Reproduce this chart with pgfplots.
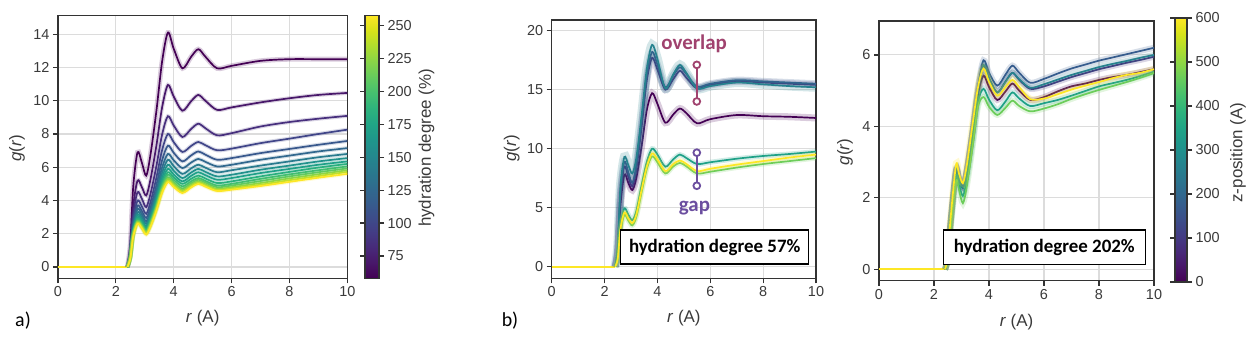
\documentclass[border=0pt]{standalone}
\usepackage{fontspec}
\setmainfont{Liberation Sans}
\newfontfamily\calibri{Carlito}
\usepackage{pgfplots}
\usepackage{pgfplotstable}
\pgfplotsset{compat=1.18}

\definecolor{spine}{HTML}{333333}
\definecolor{labc}{HTML}{3A3A3A}
\definecolor{gridc}{HTML}{DCDCDC}
\definecolor{ovc}{HTML}{A0426E}
\definecolor{gapc}{HTML}{6B4E9F}
% viridis samples for the hydration series (panel a)
\definecolor{va1}{HTML}{440154}
\definecolor{va2}{HTML}{48186A}
\definecolor{va3}{HTML}{472F7D}
\definecolor{va4}{HTML}{404588}
\definecolor{va5}{HTML}{38588C}
\definecolor{va6}{HTML}{31688E}
\definecolor{va7}{HTML}{297B8E}
\definecolor{va8}{HTML}{21918C}
\definecolor{va9}{HTML}{1FA088}
\definecolor{va10}{HTML}{29AF7F}
\definecolor{va11}{HTML}{40BD72}
\definecolor{va12}{HTML}{5CC863}
\definecolor{va13}{HTML}{86D549}
\definecolor{va14}{HTML}{B8DE29}
\definecolor{va15}{HTML}{FDE725}
% z-position series (panels b, c)
\definecolor{z0}{HTML}{440154}
\definecolor{z1}{HTML}{46327E}
\definecolor{z2}{HTML}{365C8D}
\definecolor{z3}{HTML}{26828E}
\definecolor{z4}{HTML}{1FA187}
\definecolor{z5}{HTML}{6CCD5A}
\definecolor{z6}{HTML}{FDE725}

\newcommand{\tickfont}{\fontsize{14.5}{16}\selectfont}
\newcommand{\labfont}{\fontsize{17}{19}\selectfont}

\pgfplotstableread{
r    a1    a2    a3   a4   a5   a6   a7   a8   a9   a10  a11  a12  a13  a14  a15
2.4  0     0     0    0    0    0    0    0    0    0    0    0    0    0    0
2.5  1.38  1.04  0.9  0.8  0.74 0.7  0.66 0.63 0.6  0.58 0.56 0.55 0.54 0.53 0.52
2.6  4.83  3.64  3.15 2.8  2.59 2.45 2.31 2.21 2.1  2.03 1.96 1.93 1.89 1.86 1.82
2.75 6.9   5.2   4.5  4.0  3.7  3.5  3.3  3.15 3.0  2.9  2.8  2.75 2.7  2.65 2.6
2.9  6.27  4.80  4.10 3.64 3.36 3.16 2.99 2.84 2.71 2.61 2.51 2.46 2.41 2.36 2.31
3.05 5.5   4.3   3.6  3.2  2.95 2.75 2.6  2.45 2.35 2.25 2.15 2.1  2.05 2.0  1.95
3.2  6.79  5.30  4.42 3.92 3.60 3.36 3.18 3.01 2.88 2.77 2.66 2.60 2.54 2.48 2.42
3.4  9.37  7.29  6.06 5.36 4.91 4.57 4.33 4.12 3.95 3.80 3.68 3.59 3.51 3.44 3.37
3.6  12.38 9.62  7.98 7.04 6.43 5.99 5.68 5.41 5.19 5.01 4.87 4.74 4.65 4.56 4.47
3.8  14.1  10.95 9.07 8.0  7.3  6.8  6.45 6.15 5.9  5.7  5.55 5.4  5.3  5.2  5.1
4.0  13.13 10.25 8.51 7.51 6.87 6.42 6.07 5.79 5.56 5.39 5.24 5.09 4.99 4.90 4.81
4.3  11.95 9.4   7.82 6.92 6.35 5.95 5.6  5.35 5.15 5.0  4.85 4.72 4.62 4.53 4.45
4.6  12.64 9.97  8.30 7.28 6.71 6.28 5.93 5.68 5.48 5.30 5.15 5.04 4.94 4.85 4.78
4.85 13.1  10.35 8.62 7.52 6.95 6.5  6.15 5.9  5.7  5.5  5.35 5.25 5.15 5.07 5.0
5.1  12.64 9.99  8.34 7.32 6.75 6.32 5.97 5.72 5.52 5.32 5.17 5.07 4.97 4.89 4.83
5.5  11.95 9.45  7.92 7.02 6.45 6.05 5.7  5.45 5.25 5.05 4.9  4.8  4.7  4.63 4.57
6    12.1  9.6   8.05 7.12 6.55 6.15 5.82 5.55 5.35 5.15 5.0  4.9  4.8  4.72 4.65
7    12.4  9.9   8.45 7.45 6.85 6.45 6.1  5.85 5.65 5.45 5.3  5.17 5.05 4.95 4.87
8    12.5  10.15 8.72 7.72 7.1  6.7  6.35 6.1  5.9  5.72 5.57 5.45 5.33 5.22 5.12
9    12.5  10.35 8.92 8.0  7.35 6.95 6.6  6.35 6.15 5.98 5.82 5.7  5.58 5.47 5.37
10   12.5  10.47 9.09 8.26 7.58 7.15 6.8  6.55 6.35 6.2  6.05 5.93 5.82 5.72 5.6
}\tabA

\pgfplotstableread{
r    b0    b1    b2    b3    b4    b5    b6
2.4  0     0     0     0     0     0     0
2.5  1.2   1.5   1.6   1.8   0.8   0.65  0.7
2.6  5.2   6.0   6.3   6.8   3.5   3.0   3.2
2.75 7.8   8.5   8.9   9.3   4.95  4.4   4.6
2.9  7.1   7.6   8.0   8.6   4.4   3.9   4.1
3.05 6.5   6.8   7.1   7.9   3.95  3.5   3.7
3.2  7.5   8.2   8.6   9.2   4.7   4.2   4.4
3.4  10.2  11.8  12.2  12.8  6.9   6.3   6.5
3.6  13.3  15.8  16.2  16.8  8.9   8.3   8.5
3.8  14.7  17.7  18.2  18.8  10.0  9.35  9.6
4.0  13.8  16.7  17.1  17.6  9.5   8.85  9.1
4.3  12.2  15.0  15.2  15.1  8.47  7.9   8.1
4.6  12.9  15.9  16.2  16.3  9.1   8.5   8.7
4.85 13.4  16.6  16.9  17.1  9.5   8.8   9.0
5.1  13.0  16.0  16.3  16.4  9.2   8.5   8.7
5.5  12.15 15.1  15.25 15.1  8.7   7.9   8.1
6    12.5  15.4  15.5  15.3  8.85  8.05  8.3
7    12.85 15.7  15.8  15.6  9.15  8.4   8.65
8    12.75 15.6  15.7  15.45 9.38  8.7   8.95
9    12.7  15.5  15.6  15.3  9.55  8.95  9.25
10   12.6  15.4  15.5  15.2  9.75  9.2   9.5
}\tabB

\pgfplotstableread{
r    c0    c1    c2    c3    c4    c5    c6
2.4  0     0     0     0     0     0     0
2.5  0.3   0.3   0.3   0.3   0.28  0.25  0.35
2.6  1.3   1.3   1.3   1.3   1.2   1.1   1.4
2.8  2.75  2.75  2.8   2.78  2.6   2.45  2.92
2.9  2.55  2.55  2.6   2.58  2.4   2.25  2.7
3.05 2.3   2.28  2.3   2.28  2.05  1.85  2.41
3.2  2.8   2.78  2.85  2.8   2.55  2.35  2.95
3.4  3.8   3.85  3.9   3.85  3.55  3.4   4.04
3.6  4.9   5.0   5.1   5.0   4.7   4.55  5.1
3.8  5.42  5.7   5.85  5.72  5.05  4.82  5.62
4.0  5.1   5.35  5.5   5.35  4.75  4.55  5.25
4.3  4.74  4.95  5.14  4.95  4.45  4.32  4.86
4.6  4.98  5.25  5.45  5.25  4.7   4.52  5.1
4.85 5.2   5.5   5.7   5.5   4.95  4.72  5.3
5.1  5.0   5.3   5.5   5.32  4.78  4.57  5.1
5.5  4.74  5.05  5.22  5.08  4.57  4.42  4.76
6    4.82  5.12  5.33  5.18  4.65  4.5   4.78
6.5  4.98  5.25  5.48  5.31  4.74  4.62  4.9
7    5.12  5.38  5.62  5.44  4.86  4.77  5.03
7.5  5.2   5.49  5.73  5.55  4.99  4.9   5.14
8    5.3   5.6   5.84  5.66  5.12  5.02  5.24
8.5  5.38  5.69  5.93  5.75  5.21  5.13  5.35
9    5.44  5.78  6.02  5.83  5.3   5.24  5.44
9.5  5.52  5.86  6.11  5.92  5.41  5.36  5.5
10   5.6   5.95  6.2   6.0   5.53  5.49  5.6
}\tabC

% band (std shading) + line for one series
\newcommand{\gcurve}[4]{%
  \addplot[draw=#3, line width=#4, opacity=0.2, smooth, tension=0.5, forget plot] table[x=r, y=#2] {#1};
  \addplot[draw=#3, line width=1.7bp, smooth, tension=0.5] table[x=r, y=#2] {#1};
}

\pgfplotsset{
  gr axis/.style={
    scale only axis,
    xmin=0, xmax=10, xtick={0,2,...,10},
    axis line style={draw=spine, line width=1.2bp},
    tick style={draw=spine, line width=1.2bp},
    tick align=outside, major tick length=5bp,
    xtick pos=bottom, ytick pos=left,
    grid=major, major grid style={draw=gridc, line width=1.1bp},
    /pgf/number format/assume math mode=true,
    xticklabel style={font=\tickfont, text=labc},
    yticklabel style={font=\tickfont, text=labc},
    xlabel={\textit{r} (A)},
    ylabel={\textit{g}(\textit{r})},
  },
  cbar/.style={
    scale only axis,
    axis line style={draw=spine, line width=1.2bp},
    tick style={draw=spine, line width=1.2bp},
    tick align=outside, major tick length=5bp,
    /pgf/number format/assume math mode=true,
    yticklabel style={font=\tickfont, text=labc},
  },
}

\begin{document}
\begin{tikzpicture}
\useasboundingbox (0,0) rectangle (1253bp,338bp);

% ---------------- panel a ----------------
\begin{axis}[gr axis,
  at={(58bp,59.7bp)}, anchor=south west,
  width=289.3bp, height=263bp,
  ymin=-0.68, ymax=15.14, ytick={0,2,...,14},
  xlabel style={at={(axis description cs:0.5,-0.151)}, anchor=center, font=\labfont, text=labc},
  ylabel style={at={(axis description cs:-0.142,0.495)}, anchor=center, font=\labfont, text=labc},
  colormap/viridis, colorbar,
  point meta min=58, point meta max=258,
  colorbar style={cbar,
    at={(parent axis.north east)}, anchor=north west, xshift=9.2bp,
    width=14bp, height=263bp,
    ytick={75,100,...,250},
    ylabel={hydration degree (\%)},
    every axis y label/.style={at={(axis description cs:4.4,0.496)}, rotate=90, anchor=center, font=\labfont, text=labc},
  },
]
\addplot[draw=va15, line width=1.7bp] coordinates {(0,0) (2.4,0)};
\gcurve{\tabA}{a1}{va1}{5bp}
\gcurve{\tabA}{a2}{va2}{4bp}
\gcurve{\tabA}{a3}{va3}{4bp}
\gcurve{\tabA}{a4}{va4}{4bp}
\gcurve{\tabA}{a5}{va5}{4bp}
\gcurve{\tabA}{a6}{va6}{4bp}
\gcurve{\tabA}{a7}{va7}{4bp}
\gcurve{\tabA}{a8}{va8}{4bp}
\gcurve{\tabA}{a9}{va9}{4bp}
\gcurve{\tabA}{a10}{va10}{4bp}
\gcurve{\tabA}{a11}{va11}{4bp}
\gcurve{\tabA}{a12}{va12}{4bp}
\gcurve{\tabA}{a13}{va13}{4bp}
\gcurve{\tabA}{a14}{va14}{4bp}
\gcurve{\tabA}{a15}{va15}{4bp}
\end{axis}

% ---------------- panel b ----------------
\begin{axis}[gr axis,
  at={(551.7bp,59.7bp)}, anchor=south west,
  width=264.3bp, height=258.3bp,
  ymin=-0.98, ymax=20.9, ytick={0,5,...,20},
  xlabel style={at={(axis description cs:0.5,-0.154)}, anchor=center, font=\labfont, text=labc},
  ylabel style={at={(axis description cs:-0.151,0.504)}, anchor=center, font=\labfont, text=labc},
]
\addplot[draw=z6, line width=1.7bp] coordinates {(0,0) (2.4,0)};
\gcurve{\tabB}{b0}{z0}{7bp}
\gcurve{\tabB}{b1}{z1}{7bp}
\gcurve{\tabB}{b2}{z2}{7bp}
\gcurve{\tabB}{b3}{z3}{9bp}
\gcurve{\tabB}{b4}{z4}{5bp}
\gcurve{\tabB}{b5}{z5}{5bp}
\gcurve{\tabB}{b6}{z6}{5bp}
\addplot[draw=ovc, line width=2bp, mark=*, mark size=3.4bp,
  mark options={draw=ovc, fill=white, line width=1.8bp}] coordinates {(5.49,14.0) (5.49,17.1)};
\addplot[draw=gapc, line width=2bp, mark=*, mark size=3.4bp,
  mark options={draw=gapc, fill=white, line width=1.8bp}] coordinates {(5.49,6.86) (5.49,9.66)};
\node[font=\calibri\bfseries\fontsize{21}{24}\selectfont, text=ovc] at (axis cs:5.39,18.9) {overlap};
\node[font=\calibri\bfseries\fontsize{21}{24}\selectfont, text=gapc] at (axis cs:5.4,5.0) {gap};
\node[draw=black, line width=1.1bp, fill=white, minimum width=188bp, minimum height=34bp,
  font=\calibri\bfseries\fontsize{19}{22}\selectfont] at (axis cs:6.17,1.67) {hydration degree 57\%};
\end{axis}

% ---------------- panel c ----------------
\begin{axis}[gr axis,
  at={(879bp,57.3bp)}, anchor=south west,
  width=275bp, height=259.7bp,
  ymin=-0.32, ymax=6.95, ytick={0,2,4,6},
  xlabel style={at={(axis description cs:0.5,-0.159)}, anchor=center, font=\labfont, text=labc},
  ylabel style={at={(axis description cs:-0.124,0.496)}, anchor=center, font=\labfont, text=labc},
  colormap/viridis, colorbar,
  point meta min=0, point meta max=600,
  colorbar style={cbar,
    at={(parent axis.north east)}, anchor=north west, xshift=12.5bp, yshift=3bp,
    width=12bp, height=264bp,
    ytick={0,100,...,600},
    ylabel={z-position (A)},
    every axis y label/.style={at={(axis description cs:5.25,0.49)}, rotate=90, anchor=center, font=\labfont, text=labc},
  },
]
\addplot[draw=z6, line width=1.7bp] coordinates {(0,0) (2.4,0)};
\gcurve{\tabC}{c0}{z0}{6bp}
\gcurve{\tabC}{c1}{z1}{6bp}
\gcurve{\tabC}{c2}{z2}{6bp}
\gcurve{\tabC}{c3}{z3}{6bp}
\gcurve{\tabC}{c4}{z4}{6bp}
\gcurve{\tabC}{c5}{z5}{6bp}
\gcurve{\tabC}{c6}{z6}{7bp}
\node[draw=black, line width=1.1bp, fill=white, minimum width=201.7bp, minimum height=34.3bp,
  font=\calibri\bfseries\fontsize{19}{22}\selectfont] at (axis cs:6.01,0.62) {hydration degree 202\%};
\end{axis}

\node[font=\calibri\fontsize{20}{22}\selectfont] at (23bp,17bp) {a)};
\node[font=\calibri\fontsize{20}{22}\selectfont] at (510bp,17bp) {b)};
\end{tikzpicture}
\end{document}
